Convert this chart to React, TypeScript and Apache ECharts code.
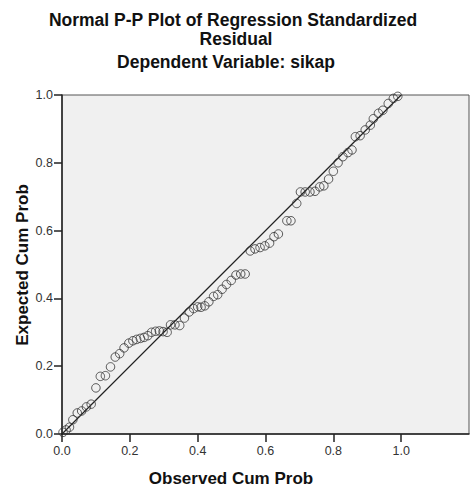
import React, { useEffect, useRef } from "react";
import * as echarts from "echarts";

const observedCumProb = [
  0.003, 0.012, 0.022, 0.032, 0.045, 0.058, 0.072, 0.086, 0.1, 0.113, 0.128, 0.143, 0.157, 0.17,
  0.183, 0.197, 0.209, 0.22, 0.231, 0.242, 0.253, 0.264, 0.276, 0.287, 0.298, 0.31, 0.32, 0.333,
  0.347, 0.361, 0.375, 0.388, 0.4, 0.41, 0.421, 0.433, 0.447, 0.459, 0.472, 0.485, 0.499, 0.513,
  0.527, 0.54, 0.555, 0.569, 0.584, 0.598, 0.612, 0.625, 0.638, 0.663, 0.675, 0.692, 0.703, 0.717,
  0.731, 0.746, 0.76, 0.772, 0.786, 0.8, 0.814, 0.828, 0.843, 0.855, 0.865, 0.879, 0.894, 0.909,
  0.918, 0.933, 0.946, 0.962, 0.977, 0.99,
];
const expectedCumProb = [
  0.005, 0.012, 0.02, 0.042, 0.062, 0.068, 0.08, 0.088, 0.136, 0.17, 0.172, 0.198, 0.227, 0.237,
  0.254, 0.268, 0.275, 0.279, 0.282, 0.285, 0.29, 0.3, 0.303, 0.304, 0.302, 0.3, 0.322, 0.322,
  0.32, 0.342, 0.36, 0.37, 0.375, 0.374, 0.378, 0.39, 0.406, 0.411, 0.427, 0.441, 0.453, 0.469,
  0.472, 0.472, 0.54, 0.546, 0.55, 0.555, 0.563, 0.582, 0.59, 0.629, 0.629, 0.68, 0.714, 0.714,
  0.714, 0.716, 0.729, 0.732, 0.752, 0.775, 0.8, 0.818, 0.83, 0.838, 0.877, 0.88, 0.897, 0.911,
  0.93, 0.946, 0.955, 0.975, 0.99, 0.996,
];
const referenceLine = [
  [0, 0],
  [1, 1],
];
const tickValues = [0, 0.2, 0.4, 0.6, 0.8, 1.0];

const titleLines = ["Normal P-P Plot of Regression Standardized", "Residual"];
const subtitle = "Dependent Variable: sikap";
const xTitle = "Observed Cum Prob";
const yTitle = "Expected Cum Prob";

export default function App() {
  const ref = useRef<HTMLDivElement>(null);
  useEffect(() => {
    if (!ref.current) return;
    const chart = echarts.init(ref.current, undefined, { renderer: "svg" });
    const font = "'Liberation Sans', Arial, sans-serif";
    const points = observedCumProb.map((v, i) => [v, expectedCumProb[i]]);
    chart.setOption({
      animation: false,
      backgroundColor: "#ffffff",
      grid: {
        left: 62,
        top: 95,
        width: 407,
        height: 339,
        show: true,
        backgroundColor: "#f0f0f0",
        borderColor: "#555555",
        borderWidth: 1,
      },
      xAxis: {
        type: "value",
        min: 0,
        max: 1.2,
        interval: 0.2,
        splitLine: { show: false },
        axisLine: { show: true, onZero: false, lineStyle: { color: "#222", width: 1.5 } },
        axisTick: {
          show: true,
          length: 8,
          inside: false,
          customValues: tickValues,
          lineStyle: { color: "#222", width: 1.5 },
        },
        axisLabel: {
          show: true,
          margin: 10,
          customValues: tickValues,
          color: "#333",
          fontFamily: font,
          fontSize: 12.5,
          formatter: (v: number) => (v > 1.05 ? "" : v.toFixed(1)),
        },
      },
      yAxis: {
        type: "value",
        min: 0,
        max: 1,
        interval: 0.2,
        splitLine: { show: false },
        axisLine: { show: true, onZero: false, lineStyle: { color: "#222", width: 1.5 } },
        axisTick: { show: true, length: 8, inside: false, lineStyle: { color: "#222", width: 1.5 } },
        axisLabel: {
          show: true,
          margin: 9,
          color: "#333",
          fontFamily: font,
          fontSize: 12.5,
          formatter: (v: number) => v.toFixed(1),
        },
      },
      graphic: [
        {
          type: "text",
          x: 233,
          y: 20,
          style: {
            text: titleLines[0],
            font: `bold 17.5px ${font}`,
            fill: "#111",
            textAlign: "center",
            textVerticalAlign: "middle",
          },
        },
        {
          type: "text",
          x: 236,
          y: 38.5,
          style: {
            text: titleLines[1],
            font: `bold 17.5px ${font}`,
            fill: "#111",
            textAlign: "center",
            textVerticalAlign: "middle",
          },
        },
        {
          type: "text",
          x: 226,
          y: 62,
          style: {
            text: subtitle,
            font: `bold 17.5px ${font}`,
            fill: "#111",
            textAlign: "center",
            textVerticalAlign: "middle",
          },
        },
        {
          type: "text",
          x: 231,
          y: 478,
          style: {
            text: xTitle,
            font: `bold 17px ${font}`,
            fill: "#111",
            textAlign: "center",
            textVerticalAlign: "middle",
          },
        },
        {
          type: "text",
          x: 22,
          y: 265,
          rotation: Math.PI / 2,
          style: {
            text: yTitle,
            font: `bold 17px ${font}`,
            fill: "#111",
            textAlign: "center",
            textVerticalAlign: "middle",
          },
        },
      ],
      series: [
        {
          type: "line",
          data: referenceLine,
          symbol: "none",
          lineStyle: { color: "#222", width: 1.2 },
          silent: true,
          z: 2,
        },
        {
          type: "scatter",
          data: points,
          symbol: "circle",
          symbolSize: 8.5,
          itemStyle: { color: "rgba(0,0,0,0)", borderColor: "#333", borderWidth: 1 },
          z: 3,
        },
      ],
    });
    return () => chart.dispose();
  }, []);
  return (
    <div
      ref={ref}
      style={{ position: "fixed", left: 0, top: 0, width: 470, height: 488 }}
    />
  );
}
